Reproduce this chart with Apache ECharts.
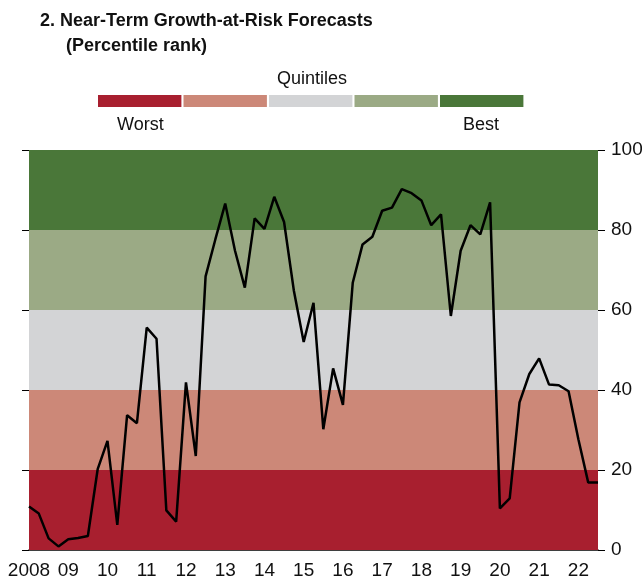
<!DOCTYPE html>
<html><head><meta charset="utf-8">
<script src="https://cdn.jsdelivr.net/npm/echarts@6/dist/echarts.min.js"></script>
<style>html,body{margin:0;padding:0;background:#fff}#c{width:642px;height:577px}</style>
</head><body><div id="c"></div>
<script>
const quarters = [];
for (let y = 2008; y <= 2022; y++) for (let q = 1; q <= 4; q++) quarters.push(y + 'Q' + q);
const categories = quarters.slice(0, 59); // 2008Q1 .. 2022Q3
const values = [10.9, 9.1, 2.9, 0.9, 2.7, 3.0, 3.5, 20.2, 27.3, 6.3,
  33.7, 31.7, 55.6, 52.8, 9.9, 7.1, 41.9, 23.5, 68.4, 77.7,
  86.6, 74.8, 65.6, 82.9, 80.3, 88.3, 82.0, 64.8, 52.0, 61.8,
  30.2, 45.4, 36.3, 66.8, 76.4, 78.3, 84.8, 85.6, 90.2, 89.2,
  87.4, 81.2, 83.9, 58.5, 74.8, 81.2, 78.9, 86.9, 10.4, 12.9,
  36.9, 44.0, 47.9, 41.4, 41.2, 39.7, 27.7, 16.9, 16.9];
const quintileEdges = [0, 20, 40, 60, 80, 100];
const quintileColors = ['#A81F2F', '#CC8878', '#D3D4D6', '#9BAA85', '#4A7739'];
const legendLabels = ['Quintiles', 'Worst', 'Best'];

const FONT = '"Liberation Sans", Arial, sans-serif';
const chart = echarts.init(document.getElementById('c'));

const bands = [];
for (let i = 0; i < 5; i++) {
  bands.push([{ yAxis: quintileEdges[i], itemStyle: { color: quintileColors[i] } }, { yAxis: quintileEdges[i + 1] }]);
}

const g = [];
const lx0 = 98, lw = 83.4, lgap = 2.1;
for (let i = 0; i < 5; i++) {
  g.push({ type: 'rect', left: lx0 + i * (lw + lgap), top: 95, shape: { width: lw, height: 12 }, style: { fill: quintileColors[i] } });
}
g.push({ type: 'text', left: 277, top: 70, style: { text: legendLabels[0], font: '18px ' + FONT, fill: '#111' } });
g.push({ type: 'text', left: 117, top: 116, style: { text: legendLabels[1], font: '18px ' + FONT, fill: '#111' } });
g.push({ type: 'text', left: 463, top: 116, style: { text: legendLabels[2], font: '18px ' + FONT, fill: '#111' } });
g.push({ type: 'text', left: 40, top: 12, style: { text: '2. Near-Term Growth-at-Risk Forecasts', font: 'bold 18px ' + FONT, fill: '#111' } });
g.push({ type: 'text', left: 66, top: 37, style: { text: '(Percentile rank)', font: 'bold 18px ' + FONT, fill: '#111' } });

const yAxisCommon = { type: 'value', min: 0, max: 100, interval: 20, splitLine: { show: false }, axisLine: { show: false } };

chart.setOption({
  animation: false,
  grid: { left: 29, right: 44, top: 150, bottom: 27, containLabel: false, outerBoundsMode: 'none' },
  xAxis: {
    type: 'category', data: categories, boundaryGap: false,
    axisLine: { show: true, lineStyle: { color: '#000', width: 1.5 } },
    axisTick: { show: true, inside: true, length: 7, lineStyle: { color: '#000', width: 1 },
      interval: (i) => i % 4 === 0 },
    axisLabel: { interval: (i) => i % 4 === 0, margin: 11, color: '#111', fontFamily: FONT, fontSize: 19,
      formatter: (v) => { const y = v.slice(0, 4); return y === '2008' ? '2008' : y.slice(2); } },
    splitLine: { show: false }
  },
  yAxis: [
    Object.assign({}, yAxisCommon, { position: 'right',
      axisTick: { show: true, length: 7, lineStyle: { color: '#000', width: 1 } },
      axisLabel: { margin: 13, color: '#111', fontFamily: FONT, fontSize: 19 } }),
    Object.assign({}, yAxisCommon, { position: 'left',
      axisTick: { show: true, length: 7, lineStyle: { color: '#000', width: 1 } },
      axisLabel: { show: false } })
  ],
  series: [
    { type: 'line', data: [], z: 1, silent: true, markArea: { silent: true, data: bands } },
    { type: 'line', data: values, z: 3, symbol: 'none', lineStyle: { color: '#000', width: 2.5 } }
  ],
  graphic: g
});
</script></body></html>
